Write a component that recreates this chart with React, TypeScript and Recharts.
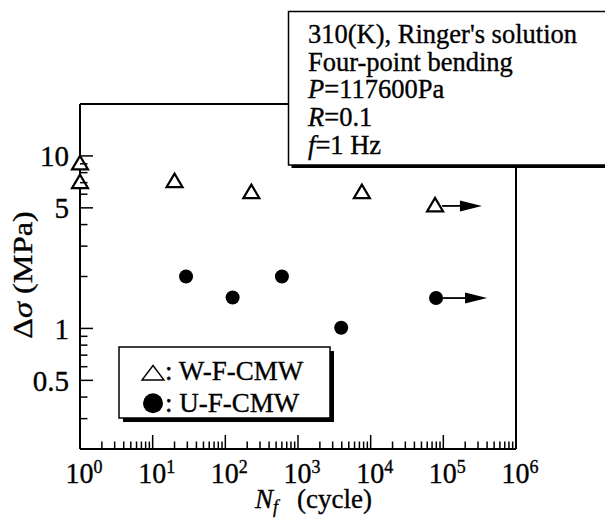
import React from 'react';
import { ScatterChart, Scatter, XAxis, YAxis, ReferenceLine } from 'recharts';

// ---------- data ----------
const wfCycles = [1, 1, 20, 228, 7570, 77000];
const wfStress = [9.0, 7.0, 7.1, 6.13, 6.13, 5.13];
const ufCycles = [28.8, 126, 601, 3930, 79400];
const ufStress = [2.0, 1.51, 2.0, 1.01, 1.5];

// run-out arrows (specimens that did not fail)
const arrowFrom = [77000, 79400];
const arrowTo = [340000, 400000];
const arrowStress = [5.13, 1.5];

const seriesNames = ['W-F-CMW', 'U-F-CMW'];
const xExponents = ['0', '1', '2', '3', '4', '5', '6'];
const yLabels = [0.5, 1, 5, 10];
const infoLines = ["310(K), Ringer's solution", 'Four-point bending', 'P=117600Pa', 'R=0.1', 'f=1 Hz'];

// ---------- derived ----------
const xTicks: number[] = [];
for (let d = 0; d < 6; d++) for (let m = 1; m <= 9; m++) xTicks.push(m * Math.pow(10, d));
xTicks.push(1e6);
const yTicks: number[] = [];
for (let m = 2; m <= 9; m++) yTicks.push(+(m * 0.1).toFixed(1));
for (let m = 1; m <= 9; m++) yTicks.push(m);
yTicks.push(10, 20);

const wfData = wfCycles.map((x, i) => ({ x, y: wfStress[i] }));
const ufData = ufCycles.map((x, i) => ({ x, y: ufStress[i] }));

const FONT = '"Liberation Serif", "Times New Roman", serif';
const W = 605;
const H = 524;
const INK = { fill: '#000', stroke: '#000', strokeWidth: 0.35 };

const isDecade = (v: number) => Math.abs(Math.log10(v) - Math.round(Math.log10(v))) < 1e-9;
const isYLabeled = (v: number) => yLabels.some((l) => Math.abs(l - v) < 1e-9);

const BottomTick = (p: any) => {
  const v = p.payload.value;
  const major = isDecade(v);
  const exp = xExponents[Math.round(Math.log10(v))];
  return (
    <g>
      <line x1={p.x} x2={p.x} y1={p.y} y2={p.y - (major ? 14 : 7.5)} stroke="#000" strokeWidth={1.5} />
      {major && (
        <text
          transform={`translate(${p.x - 14.5},${p.y + 34}) scale(1,1.08)`}
          fontFamily={FONT}
          fontSize={28}
          {...INK}
        >
          10
          <tspan dy={-9.5} fontSize={18}>{exp}</tspan>
        </text>
      )}
    </g>
  );
};

const TopTick = (p: any) => {
  const v = p.payload.value;
  const major = isDecade(v);
  return <line x1={p.x} x2={p.x} y1={p.y} y2={p.y + (major ? 14 : 7.5)} stroke="#000" strokeWidth={1.5} />;
};

const LeftTick = (p: any) => {
  const v = p.payload.value;
  const lab = isYLabeled(v);
  return (
    <g>
      <line x1={p.x} x2={p.x + (lab ? 13 : 7.5)} y1={p.y} y2={p.y} stroke="#000" strokeWidth={1.5} />
      {lab && (
        <text x={p.x - 11} y={p.y} dy="0.36em" textAnchor="end" fontFamily={FONT} fontSize={29} {...INK}>
          {String(v)}
        </text>
      )}
    </g>
  );
};

const RightTick = (p: any) => {
  const v = p.payload.value;
  const lab = isYLabeled(v);
  return <line x1={p.x} x2={p.x - (lab ? 13 : 7.5)} y1={p.y} y2={p.y} stroke="#000" strokeWidth={1.5} />;
};

const TriangleShape = (p: any) => {
  const { cx, cy } = p;
  if (cx == null || cy == null) return null;
  return (
    <polygon
      points={`${cx},${cy - 8} ${cx - 8},${cy + 5.5} ${cx + 8},${cy + 5.5}`}
      fill="#fff"
      stroke="#000"
      strokeWidth={2.2}
      strokeLinejoin="miter"
    />
  );
};

const CircleShape = (p: any) => {
  const { cx, cy } = p;
  if (cx == null || cy == null) return null;
  return <circle cx={cx} cy={cy} r={7} fill="#000" />;
};

const ArrowShape = (p: any) => {
  const { x1, y1, x2 } = p;
  if (x1 == null) return null;
  const y = y1;
  return (
    <g>
      <line x1={x1 + 7} x2={x2 - 18} y1={y} y2={y} stroke="#000" strokeWidth={1.8} />
      <polygon points={`${x2},${y} ${x2 - 22},${y - 5.5} ${x2 - 22},${y + 5.5}`} fill="#000" />
    </g>
  );
};

const axisLineStyle = { stroke: '#000', strokeWidth: 2 };

export default function App() {
  return (
    <div style={{ position: 'absolute', left: 0, top: 0, width: W, height: H, background: '#fff' }}>
      <ScatterChart width={W} height={H} margin={{ top: 103, right: 88, bottom: 74, left: 79 }}>
        <XAxis
          xAxisId="b"
          dataKey="x"
          type="number"
          scale="log"
          domain={[1, 1e6]}
          ticks={xTicks}
          interval={0}
          height={1}
          tickSize={0}
          tickMargin={0}
          tickLine={false}
          axisLine={axisLineStyle}
          tick={BottomTick}
        />
        <XAxis
          xAxisId="t"
          orientation="top"
          dataKey="x"
          type="number"
          scale="log"
          domain={[1, 1e6]}
          ticks={xTicks}
          interval={0}
          height={1}
          tickSize={0}
          tickMargin={0}
          tickLine={false}
          axisLine={axisLineStyle}
          tick={TopTick}
        />
        <YAxis
          yAxisId="l"
          dataKey="y"
          type="number"
          scale="log"
          domain={[0.2, 20]}
          ticks={yTicks}
          interval={0}
          width={1}
          tickSize={0}
          tickMargin={0}
          tickLine={false}
          axisLine={axisLineStyle}
          tick={LeftTick}
        />
        <YAxis
          yAxisId="r"
          orientation="right"
          dataKey="y"
          type="number"
          scale="log"
          domain={[0.2, 20]}
          ticks={yTicks}
          interval={0}
          width={1}
          tickSize={0}
          tickMargin={0}
          tickLine={false}
          axisLine={axisLineStyle}
          tick={RightTick}
        />
        {arrowFrom.map((a, i) => (
          <ReferenceLine
            key={i}
            xAxisId="b"
            yAxisId="l"
            segment={[
              { x: a, y: arrowStress[i] },
              { x: arrowTo[i], y: arrowStress[i] },
            ]}
            ifOverflow="visible"
            shape={ArrowShape}
          />
        ))}
        <Scatter name={seriesNames[0]} data={wfData} xAxisId="b" yAxisId="l" shape={TriangleShape} isAnimationActive={false} />
        <Scatter name={seriesNames[1]} data={ufData} xAxisId="b" yAxisId="l" shape={CircleShape} isAnimationActive={false} />
      </ScatterChart>

      <svg
        width={W}
        height={H}
        style={{ position: 'absolute', left: 0, top: 0, pointerEvents: 'none' }}
        fontFamily={FONT}
      >
        {/* condition box */}
        <rect x={291.5} y={14.5} width={330} height={153.5} fill="#000" />
        <rect x={288.5} y={11.5} width={330} height={153.5} fill="#fff" stroke="#000" strokeWidth={1.5} />
        <text x={308} y={43} fontSize={26.5} {...INK}>{infoLines[0]}</text>
        <text x={308} y={70.7} fontSize={26.5} {...INK}>{infoLines[1]}</text>
        <text x={308} y={98.4} fontSize={26.5} {...INK}>
          <tspan fontStyle="italic">{infoLines[2].slice(0, 1)}</tspan>
          {infoLines[2].slice(1)}
        </text>
        <text x={308} y={126} fontSize={26.5} {...INK}>
          <tspan fontStyle="italic">{infoLines[3].slice(0, 1)}</tspan>
          {infoLines[3].slice(1)}
        </text>
        <text x={308} y={153.7} fontSize={26.5} {...INK}>
          <tspan fontStyle="italic">{infoLines[4].slice(0, 1)}</tspan>
          {infoLines[4].slice(1)}
        </text>

        {/* legend */}
        <rect x={123} y={351} width={211} height={71} fill="#000" />
        <rect x={119} y={347} width={211} height={71} fill="#fff" stroke="#000" strokeWidth={1.5} />
        <polygon points="153,365.5 142,380 164,380" fill="none" stroke="#000" strokeWidth={1.4} />
        <text x={165} y={380} fontSize={27} {...INK}>{': ' + seriesNames[0]}</text>
        <circle cx={153} cy={403.3} r={10} fill="#000" />
        <text x={165} y={411.7} fontSize={27} {...INK}>{': ' + seriesNames[1]}</text>

        {/* x-axis title */}
        <text x={255} y={508} fontSize={27} {...INK}>
          <tspan fontStyle="italic">N</tspan>
          <tspan fontStyle="italic" fontSize={18} dy={5}>f</tspan>
          <tspan x={297} dy={-5}>(cycle)</tspan>
        </text>

        {/* y-axis title */}
        <text
          x={0}
          y={0}
          fontSize={27}
          {...INK}
          textAnchor="middle"
          transform="translate(32 275) scale(1 1.2) rotate(-90)"
        >
          Δ<tspan fontStyle="italic">σ</tspan> (MPa)
        </text>
      </svg>
    </div>
  );
}
